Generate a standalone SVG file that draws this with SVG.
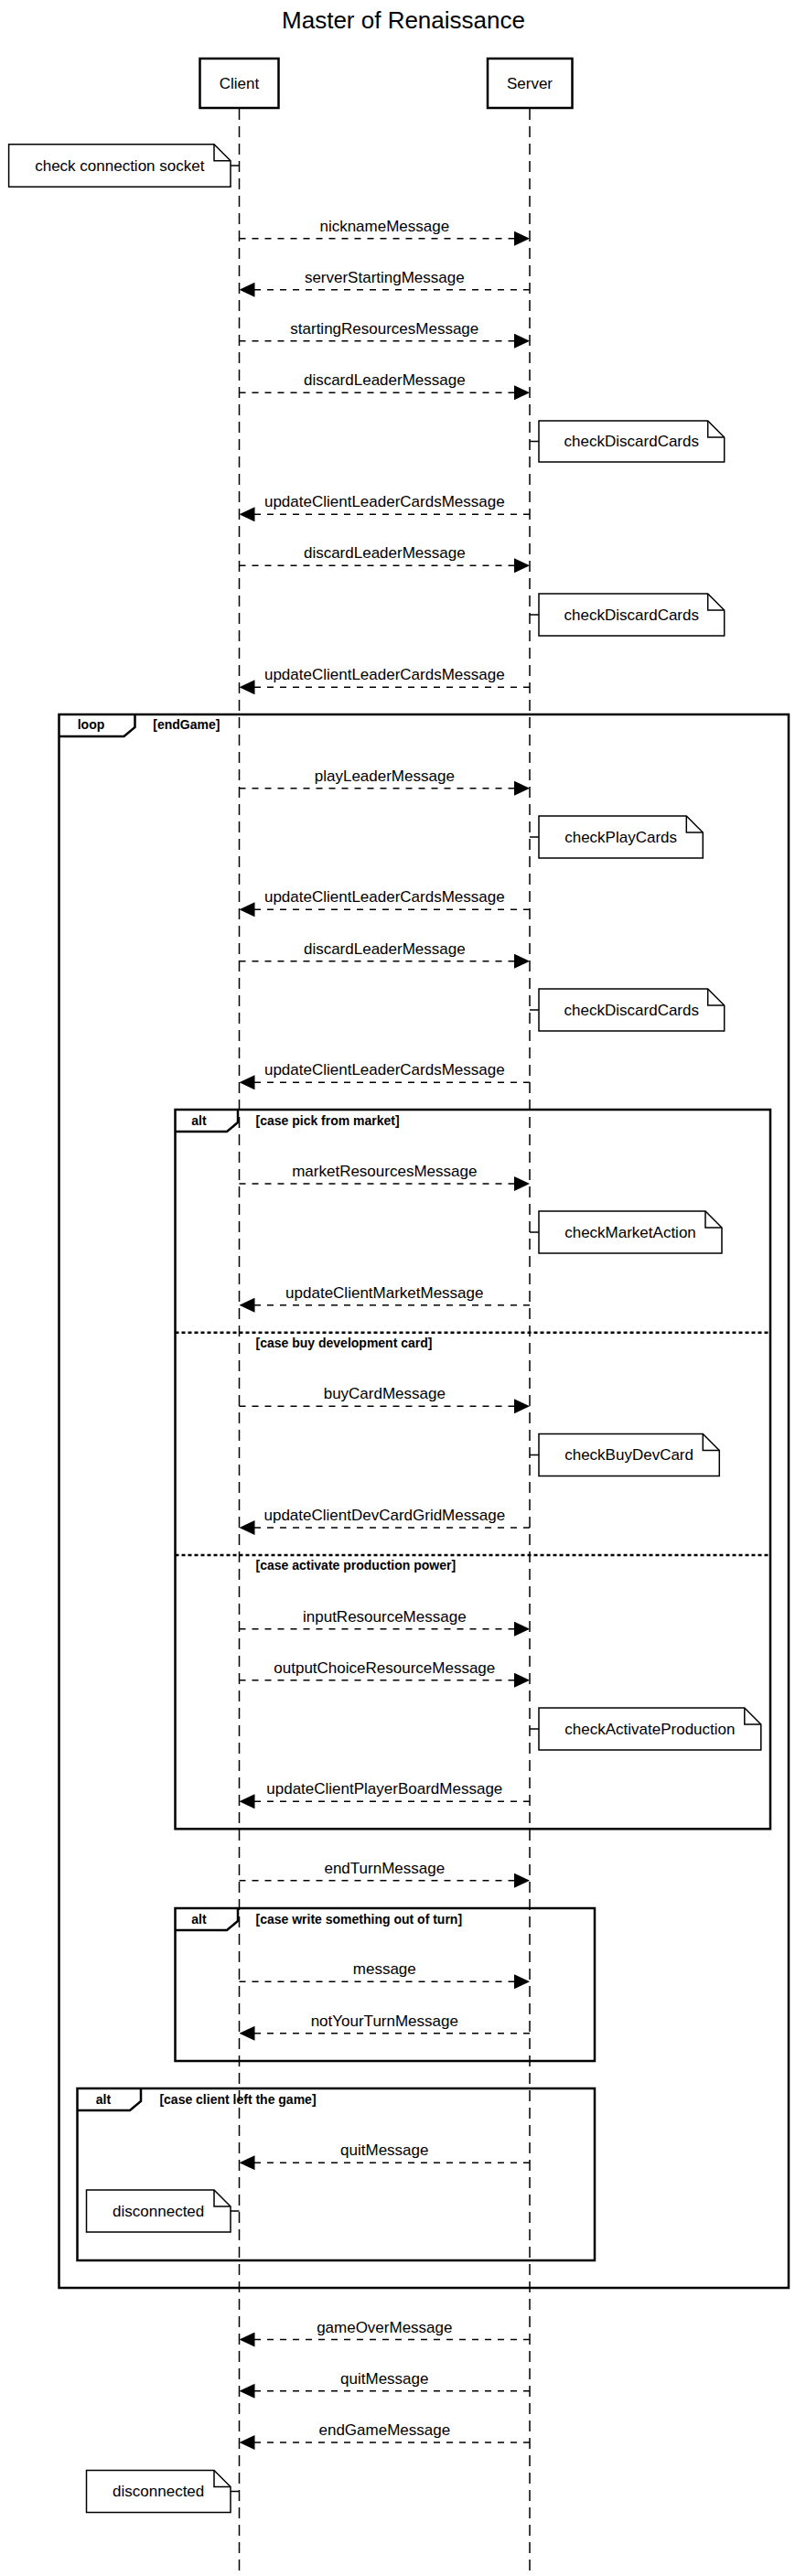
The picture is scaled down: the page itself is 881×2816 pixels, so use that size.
<svg xmlns="http://www.w3.org/2000/svg" width="881" height="2816" viewBox="0 0 881 2816">
<style>
text{font-family:"Liberation Sans",Arial,Helvetica,sans-serif;fill:#000}
.title{font-size:26px;text-anchor:middle}
.pt{font-size:17px;text-anchor:middle}
.ml{font-size:17px;text-anchor:middle}
.nt{font-size:17px;text-anchor:middle}
.fl{font-size:14px;font-weight:bold}
.flc{font-size:14px;font-weight:bold;text-anchor:middle}
.box{fill:#fff;stroke:#000;stroke-width:2.5}
.life{stroke:#000;stroke-width:1.5;stroke-dasharray:12 7;fill:none}
.msg{stroke:#000;stroke-width:1.5;stroke-dasharray:7 7;fill:none}
.note{fill:#fff;stroke:#000;stroke-width:1.5}
.fold{fill:none;stroke:#000;stroke-width:1.5}
.conn{fill:none;stroke:#000;stroke-width:1.5}
.frame{fill:none;stroke:#000;stroke-width:2.5}
.sep{fill:none;stroke:#000;stroke-width:2.4;stroke-dasharray:4 3}
</style>
<defs>
<marker id="ah" viewBox="0 0 17 16" refX="17" refY="8" markerWidth="17" markerHeight="16" markerUnits="userSpaceOnUse" orient="auto">
<path d="M0,0 L17,8 L0,16 Z" fill="#000"/>
</marker>
</defs>
<rect width="881" height="2816" fill="#fff"/>
<text class="title" x="441" y="31">Master of Renaissance</text>

<g id="client">
<rect class="box" x="218.5" y="64" width="86" height="54"/>
<text class="pt" x="261.5" y="97">Client</text>
<line class="life" x1="261.5" y1="119" x2="261.5" y2="2816"/>
</g>
<g id="server">
<rect class="box" x="533" y="64" width="92.5" height="54"/>
<text class="pt" x="579" y="97">Server</text>
<line class="life" x1="579" y1="119" x2="579" y2="2816"/>
</g>

<g id="frames">
<g id="loop-endGame">
<rect class="frame" x="64.5" y="781" width="797.5" height="1720"/>
<path class="frame" d="M64.5,805 H135.5 L147.5,795 V781"/>
<text class="flc" x="99.5" y="797">loop</text>
<text class="fl" x="167.3" y="797">[endGame]</text>
</g>
<g id="alt-actions">
<rect class="frame" x="191.5" y="1213" width="650.5" height="786.3"/>
<path class="frame" d="M191.5,1237 H248 L260,1227 V1213"/>
<text class="flc" x="217.5" y="1229.5">alt</text>
<text class="fl" x="279.5" y="1229.5">[case pick from market]</text>
<line class="sep" x1="191.5" y1="1456.7" x2="842" y2="1456.7"/>
<text class="fl" x="279.5" y="1472.5">[case buy development card]</text>
<line class="sep" x1="191.5" y1="1700" x2="842" y2="1700"/>
<text class="fl" x="279.5" y="1716">[case activate production power]</text>
</g>
<g id="alt-outofturn">
<rect class="frame" x="191.5" y="2086" width="458.5" height="167"/>
<path class="frame" d="M191.5,2110 H248 L260,2100 V2086"/>
<text class="flc" x="217.5" y="2102.5">alt</text>
<text class="fl" x="279.5" y="2102.5">[case write something out of turn]</text>
</g>
<g id="alt-left">
<rect class="frame" x="84.5" y="2283" width="565.5" height="188"/>
<path class="frame" d="M84.5,2307 H142 L154,2297 V2283"/>
<text class="flc" x="113" y="2299.5">alt</text>
<text class="fl" x="174.4" y="2299.5">[case client left the game]</text>
</g>
</g>

<g id="connectors">
<line class="msg" x1="261.5" y1="260.7" x2="579" y2="260.7" marker-end="url(#ah)"/>
<text class="ml" x="420.3" y="252.7">nicknameMessage</text>
<line class="msg" x1="579" y1="316.7" x2="261.5" y2="316.7" marker-end="url(#ah)"/>
<text class="ml" x="420.3" y="308.7">serverStartingMessage</text>
<line class="msg" x1="261.5" y1="372.7" x2="579" y2="372.7" marker-end="url(#ah)"/>
<text class="ml" x="420.3" y="364.7">startingResourcesMessage</text>
<line class="msg" x1="261.5" y1="429.3" x2="579" y2="429.3" marker-end="url(#ah)"/>
<text class="ml" x="420.3" y="421.3">discardLeaderMessage</text>
<line class="msg" x1="579" y1="562.3" x2="261.5" y2="562.3" marker-end="url(#ah)"/>
<text class="ml" x="420.3" y="554.3">updateClientLeaderCardsMessage</text>
<line class="msg" x1="261.5" y1="618.3" x2="579" y2="618.3" marker-end="url(#ah)"/>
<text class="ml" x="420.3" y="610.3">discardLeaderMessage</text>
<line class="msg" x1="579" y1="751.3" x2="261.5" y2="751.3" marker-end="url(#ah)"/>
<text class="ml" x="420.3" y="743.3">updateClientLeaderCardsMessage</text>
<line class="msg" x1="261.5" y1="861.7" x2="579" y2="861.7" marker-end="url(#ah)"/>
<text class="ml" x="420.3" y="853.7">playLeaderMessage</text>
<line class="msg" x1="579" y1="994.3" x2="261.5" y2="994.3" marker-end="url(#ah)"/>
<text class="ml" x="420.3" y="986.3">updateClientLeaderCardsMessage</text>
<line class="msg" x1="261.5" y1="1050.7" x2="579" y2="1050.7" marker-end="url(#ah)"/>
<text class="ml" x="420.3" y="1042.7">discardLeaderMessage</text>
<line class="msg" x1="579" y1="1183.3" x2="261.5" y2="1183.3" marker-end="url(#ah)"/>
<text class="ml" x="420.3" y="1175.3">updateClientLeaderCardsMessage</text>
<line class="msg" x1="261.5" y1="1294" x2="579" y2="1294" marker-end="url(#ah)"/>
<text class="ml" x="420.3" y="1286">marketResourcesMessage</text>
<line class="msg" x1="579" y1="1426.7" x2="261.5" y2="1426.7" marker-end="url(#ah)"/>
<text class="ml" x="420.3" y="1418.7">updateClientMarketMessage</text>
<line class="msg" x1="261.5" y1="1537.3" x2="579" y2="1537.3" marker-end="url(#ah)"/>
<text class="ml" x="420.3" y="1529.3">buyCardMessage</text>
<line class="msg" x1="579" y1="1670" x2="261.5" y2="1670" marker-end="url(#ah)"/>
<text class="ml" x="420.3" y="1662">updateClientDevCardGridMessage</text>
<line class="msg" x1="261.5" y1="1780.7" x2="579" y2="1780.7" marker-end="url(#ah)"/>
<text class="ml" x="420.3" y="1772.7">inputResourceMessage</text>
<line class="msg" x1="261.5" y1="1836.7" x2="579" y2="1836.7" marker-end="url(#ah)"/>
<text class="ml" x="420.3" y="1828.7">outputChoiceResourceMessage</text>
<line class="msg" x1="579" y1="1969.3" x2="261.5" y2="1969.3" marker-end="url(#ah)"/>
<text class="ml" x="420.3" y="1961.3">updateClientPlayerBoardMessage</text>
<line class="msg" x1="261.5" y1="2055.7" x2="579" y2="2055.7" marker-end="url(#ah)"/>
<text class="ml" x="420.3" y="2047.7">endTurnMessage</text>
<line class="msg" x1="261.5" y1="2166.3" x2="579" y2="2166.3" marker-end="url(#ah)"/>
<text class="ml" x="420.3" y="2158.3">message</text>
<line class="msg" x1="579" y1="2222.8" x2="261.5" y2="2222.8" marker-end="url(#ah)"/>
<text class="ml" x="420.3" y="2214.8">notYourTurnMessage</text>
<line class="msg" x1="579" y1="2364.2" x2="261.5" y2="2364.2" marker-end="url(#ah)"/>
<text class="ml" x="420.3" y="2356.2">quitMessage</text>
<line class="msg" x1="579" y1="2557.5" x2="261.5" y2="2557.5" marker-end="url(#ah)"/>
<text class="ml" x="420.3" y="2549.5">gameOverMessage</text>
<line class="msg" x1="579" y1="2613.8" x2="261.5" y2="2613.8" marker-end="url(#ah)"/>
<text class="ml" x="420.3" y="2605.8">quitMessage</text>
<line class="msg" x1="579" y1="2670" x2="261.5" y2="2670" marker-end="url(#ah)"/>
<text class="ml" x="420.3" y="2662">endGameMessage</text>
<path class="conn" d="M252,181 H261.5 M579,482.5 H589 M579,672 H589 M579,915 H589 M579,1104 H589 M579,1347 H589 M579,1590.5 H589 M579,1890 H589 M252,2417 H261.5 M252,2723.5 H261.5"/>
</g>

<g id="note-socket">
<path class="note" d="M9.6,157.7 H234 L252,175.7 V204.3 H9.6 Z"/>
<path class="fold" d="M234,157.7 V175.7 H252"/>
<text class="nt" x="130.8" y="186.5">check connection socket</text>
</g>
<g id="note-discard1">
<path class="note" d="M589,460 H773.7 L791.7,478 V505 H589 Z"/>
<path class="fold" d="M773.7,460 V478 H791.7"/>
<text class="nt" x="690.3" y="488">checkDiscardCards</text>
</g>
<g id="note-discard2">
<path class="note" d="M589,649 H773.7 L791.7,667 V695 H589 Z"/>
<path class="fold" d="M773.7,649 V667 H791.7"/>
<text class="nt" x="690.3" y="677.5">checkDiscardCards</text>
</g>
<g id="note-play">
<path class="note" d="M589,892 H750.3 L768.3,910 V938 H589 Z"/>
<path class="fold" d="M750.3,892 V910 H768.3"/>
<text class="nt" x="678.6" y="920.5">checkPlayCards</text>
</g>
<g id="note-discard3">
<path class="note" d="M589,1081 H773.7 L791.7,1099 V1127 H589 Z"/>
<path class="fold" d="M773.7,1081 V1099 H791.7"/>
<text class="nt" x="690.3" y="1109.5">checkDiscardCards</text>
</g>
<g id="note-market">
<path class="note" d="M589,1324 H771 L789,1342 V1370 H589 Z"/>
<path class="fold" d="M771,1324 V1342 H789"/>
<text class="nt" x="689" y="1352.5">checkMarketAction</text>
</g>
<g id="note-buydev">
<path class="note" d="M589,1567.5 H768.3 L786.3,1585.5 V1613.5 H589 Z"/>
<path class="fold" d="M768.3,1567.5 V1585.5 H786.3"/>
<text class="nt" x="687.6" y="1596">checkBuyDevCard</text>
</g>
<g id="note-production">
<path class="note" d="M589,1867 H813.8 L831.8,1885 V1913 H589 Z"/>
<path class="fold" d="M813.8,1867 V1885 H831.8"/>
<text class="nt" x="710.4" y="1895.5">checkActivateProduction</text>
</g>
<g id="note-disconnected1">
<path class="note" d="M94.5,2394 H234 L252,2412 V2440 H94.5 Z"/>
<path class="fold" d="M234,2394 V2412 H252"/>
<text class="nt" x="173.2" y="2422.5">disconnected</text>
</g>
<g id="note-disconnected2">
<path class="note" d="M94.5,2700.5 H234 L252,2718.5 V2746.5 H94.5 Z"/>
<path class="fold" d="M234,2700.5 V2718.5 H252"/>
<text class="nt" x="173.2" y="2729">disconnected</text>
</g>
</svg>
